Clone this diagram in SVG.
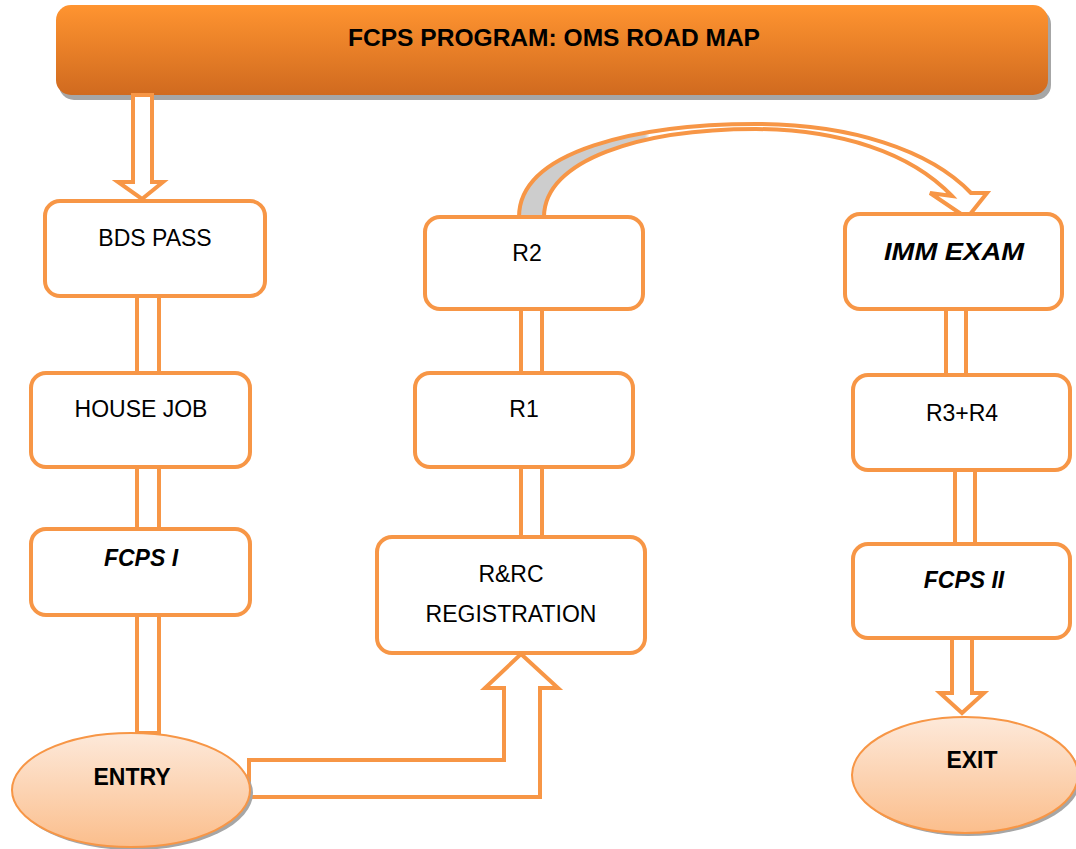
<svg xmlns="http://www.w3.org/2000/svg" width="1076" height="849" viewBox="0 0 1076 849">
<defs>
<linearGradient id="gTitle" x1="0" y1="0" x2="0" y2="1">
<stop offset="0" stop-color="#FF9430"/>
<stop offset="1" stop-color="#D06A1F"/>
</linearGradient>
<linearGradient id="gOval" x1="0" y1="0" x2="0" y2="1">
<stop offset="0" stop-color="#FDE9DA"/>
<stop offset="1" stop-color="#FBBE8C"/>
</linearGradient>
<linearGradient id="gCurve" gradientUnits="userSpaceOnUse" x1="519" y1="0" x2="985" y2="0">
<stop offset="0" stop-color="#CDCDCD"/>
<stop offset="0.27" stop-color="#CDCDCD"/>
<stop offset="0.28" stop-color="#FFFFFF"/>
<stop offset="1" stop-color="#FFFFFF"/>
</linearGradient>
</defs>
<style>
.box{fill:#FFFFFF;stroke:#F79646;stroke-width:4}
.conn{fill:#FFFFFF;stroke:#F79646;stroke-width:4;stroke-linejoin:miter}
.oval{fill:url(#gOval);stroke:#F79646;stroke-width:2}
.shadow{fill:#A6A6A6}
.t{font-family:"Liberation Sans",Arial,sans-serif;font-size:23px;fill:#000000;text-anchor:middle}
.b{font-weight:bold}
.bi{font-weight:bold;font-style:italic}
</style>
<rect width="1076" height="849" fill="#FFFFFF"/>

<g id="title">
<rect class="shadow" x="59" y="9" width="992" height="91" rx="15"/>
<rect x="56" y="5" width="992" height="90" rx="15" fill="url(#gTitle)"/>
<text class="t b" x="554" y="46" font-size="25" textLength="412" lengthAdjust="spacingAndGlyphs">FCPS PROGRAM: OMS ROAD MAP</text>
</g>

<g id="connectors">
<path class="conn" d="M133 95 L152 95 L152 182 L163 182 L142 199 L118 182 L133 182 Z"/>
<rect class="conn" x="137" y="296" width="22" height="77"/>
<rect class="conn" x="137" y="467" width="22" height="62"/>
<rect class="conn" x="137" y="615" width="22" height="118"/>
<path class="conn" d="M249 760 L504 760 L504 688 L485 688 L521 654 L558 688 L540 688 L540 797 L249 797 Z"/>
<rect class="conn" x="521" y="467" width="21" height="70"/>
<rect class="conn" x="521" y="309" width="21" height="64"/>
<path d="M519 217 C519 150 640 124 756 124 C850 124 930 150 971 193 L987 193 L967 218 L930 193 L952 196 C910 152 840 130 756 129 C640 129 544 160 544 217 Z" fill="url(#gCurve)" stroke="#F79646" stroke-width="4" stroke-linejoin="miter"/>
<rect class="conn" x="946" y="309" width="20" height="66"/>
<rect class="conn" x="955" y="470" width="20" height="74"/>
<path class="conn" d="M952 636 L972 636 L972 693 L984 693 L962 713 L940 693 L952 693 Z"/>
</g>

<g id="bds-pass">
<rect class="box" x="45" y="201" width="220" height="95" rx="15"/>
<text class="t" x="155" y="246">BDS PASS</text>
</g>
<g id="house-job">
<rect class="box" x="31" y="373" width="219" height="94" rx="15"/>
<text class="t" x="141" y="417">HOUSE JOB</text>
</g>
<g id="fcps-1">
<rect class="box" x="31" y="529" width="219" height="86" rx="15"/>
<text class="t bi" x="141" y="566">FCPS I</text>
</g>
<g id="entry">
<ellipse class="shadow" cx="134" cy="793" rx="119" ry="57"/>
<ellipse class="oval" cx="131" cy="790" rx="119" ry="57"/>
<text class="t b" x="132" y="785">ENTRY</text>
</g>
<g id="r-rc">
<rect class="box" x="377" y="537" width="268" height="116" rx="15"/>
<text class="t" x="511" y="582">R&amp;RC</text>
<text class="t" x="511" y="622">REGISTRATION</text>
</g>
<g id="r1">
<rect class="box" x="415" y="373" width="218" height="94" rx="15"/>
<text class="t" x="524" y="417">R1</text>
</g>
<g id="r2">
<rect class="box" x="425" y="217" width="218" height="92" rx="15"/>
<text class="t" x="527" y="261">R2</text>
</g>
<g id="imm-exam">
<rect class="box" x="845" y="214" width="217" height="95" rx="15"/>
<text class="t bi" x="954" y="260" textLength="140" lengthAdjust="spacingAndGlyphs">IMM EXAM</text>
</g>
<g id="r3-r4">
<rect class="box" x="853" y="375" width="217" height="95" rx="15"/>
<text class="t" x="962" y="421">R3+R4</text>
</g>
<g id="fcps-2">
<rect class="box" x="853" y="544" width="217" height="94" rx="15"/>
<text class="t bi" x="964" y="588">FCPS II</text>
</g>
<g id="exit">
<ellipse class="shadow" cx="968" cy="778" rx="113" ry="58"/>
<ellipse class="oval" cx="965" cy="775" rx="113" ry="58"/>
<text class="t b" x="972" y="768">EXIT</text>
</g>
</svg>
